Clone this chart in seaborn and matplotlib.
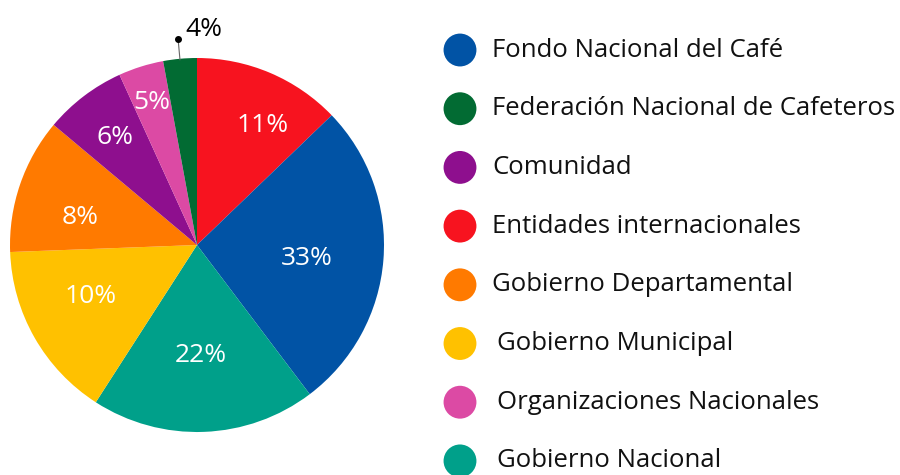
import matplotlib
matplotlib.use("Agg")
import matplotlib.pyplot as plt
import seaborn as sns
import numpy as np

sns.set_theme(style="white")
plt.rcParams['font.family'] = ['Open Sans', 'DejaVu Sans']

# pie slices, clockwise from 12 o'clock (share of circle as drawn)
slice_names = ["Entidades internacionales", "Fondo Nacional del Café", "Gobierno Nacional",
               "Gobierno Municipal", "Gobierno Departamental", "Comunidad",
               "Organizaciones Nacionales", "Federación Nacional de Cafeteros"]
slice_shares = [12.8, 26.9, 19.4, 15.3, 11.7, 7.1, 3.9, 2.9]
slice_labels = ["11%", "33%", "22%", "10%", "8%", "6%", "5%", "4%"]

# legend order
legend_names = ["Fondo Nacional del Café", "Federación Nacional de Cafeteros", "Comunidad",
                "Entidades internacionales", "Gobierno Departamental", "Gobierno Municipal",
                "Organizaciones Nacionales", "Gobierno Nacional"]

colors = {
    "Fondo Nacional del Café": "#0153A5",
    "Federación Nacional de Cafeteros": "#026B33",
    "Comunidad": "#8E0F8E",
    "Entidades internacionales": "#F7131F",
    "Gobierno Departamental": "#FF7A00",
    "Gobierno Municipal": "#FFC100",
    "Organizaciones Nacionales": "#DC4AA4",
    "Gobierno Nacional": "#00A08A",
}

# where each inside label sits: radius and a small angular nudge (deg)
label_dist = [0.73, 0.59, 0.59, 0.63, 0.64, 0.72, 0.80]
label_nudge = [-5.5, -2.5, 0, -4, 5.5, 0, 0]

fig = plt.figure(figsize=(9, 4.75), dpi=100)
ax = fig.add_axes([10 / 900, 43 / 475, 374 / 900, 374 / 475])
wedges, _ = ax.pie(slice_shares, colors=[colors[n] for n in slice_names],
                   startangle=90, counterclock=False,
                   wedgeprops=dict(linewidth=0))
ax.set_xlim(-1, 1)
ax.set_ylim(-1, 1)
ax.set_aspect("equal")
ax.axis("off")

for w, lab, d, nd in zip(wedges[:-1], slice_labels[:-1], label_dist, label_nudge):
    ang = np.deg2rad((w.theta1 + w.theta2) / 2 + nd)
    ax.text(d * np.cos(ang), d * np.sin(ang), lab, color="white",
            fontsize=19, ha="center", va="center")

# small slice: label outside with a leader
w = wedges[-1]
ang = np.deg2rad((w.theta1 + w.theta2) / 2)
x0 = np.cos(ang)
ax.plot([x0, x0 - 0.01], [0.99, 1.1], color="#666666", lw=0.8, clip_on=False)
ax.plot([x0 - 0.01], [1.1], "o", color="black", ms=4, clip_on=False)
ax.text(x0 + 0.03, 1.15, slice_labels[-1], color="black", fontsize=19,
        ha="left", va="center")

# legend drawn as its own small axes
lg = fig.add_axes([440 / 900, 0, 460 / 900, 1])
rows = np.arange(len(legend_names))
sns.scatterplot(x=[20] * len(legend_names), y=rows, hue=legend_names,
                palette=colors, s=560, linewidth=0, legend=False, ax=lg)
for i, name in enumerate(legend_names):
    lg.text(52 if i < 5 else 57, i, name, fontsize=18.5, color="#111111",
            ha="left", va="center")
lg.set_xlim(0, 460)
lg.set_ylim(7.24, -0.852)
lg.axis("off")

fig.savefig("out.png", dpi=100)
